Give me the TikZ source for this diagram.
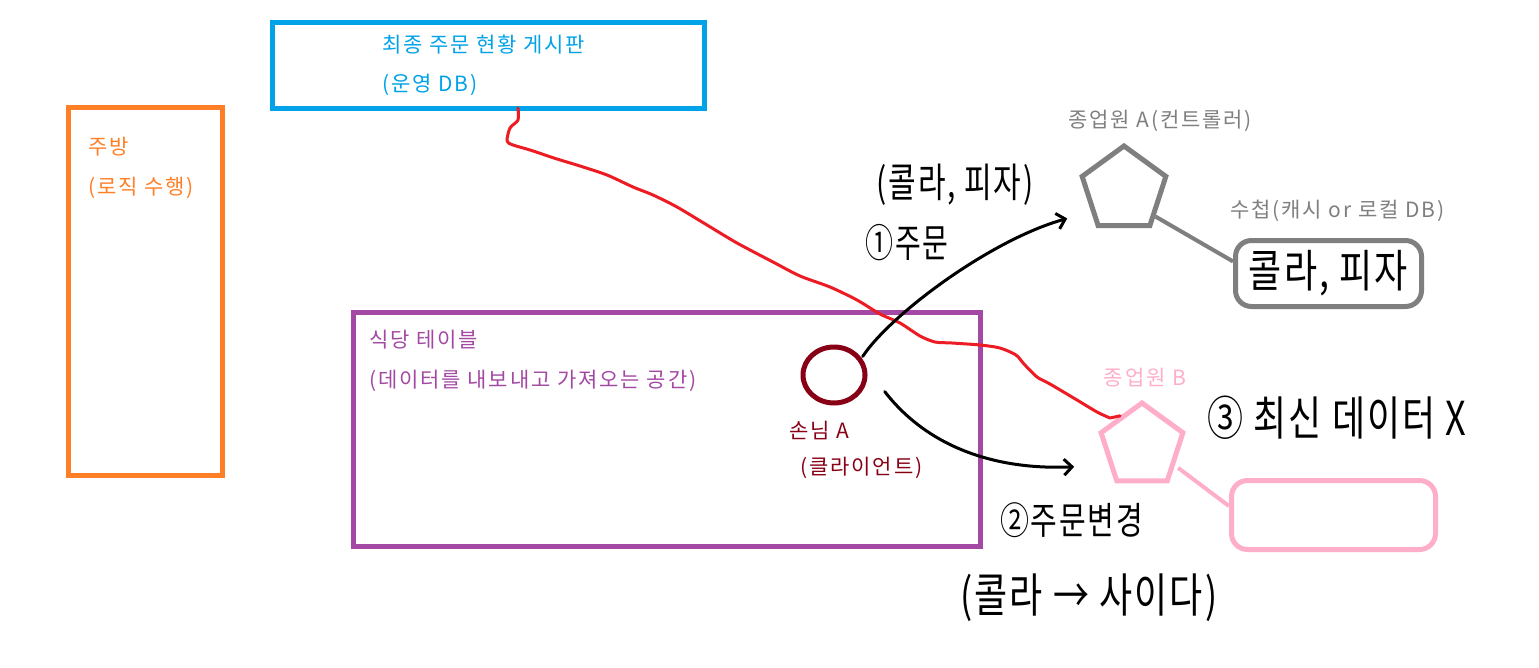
\documentclass[tikz,border=0pt]{standalone}
\usepackage{fontspec}
\setmainfont{Noto Sans CJK KR}
\newfontfamily\lblfont[LetterSpace=9]{Noto Sans CJK KR}
\newfontfamily\handfont[LetterSpace=6]{Noto Sans CJK KR}
\usetikzlibrary{shapes.geometric,arrows.meta,calc}
\definecolor{porange}{HTML}{FF7F27}
\definecolor{pblue}{HTML}{00A2E8}
\definecolor{ppurple}{HTML}{A349A4}
\definecolor{pdred}{HTML}{880015}
\definecolor{pgray}{HTML}{7F7F7F}
\definecolor{ppink}{HTML}{FFAEC9}
\definecolor{pred}{HTML}{ED1C24}
\begin{document}
\begin{tikzpicture}[x=1pt,y=-1pt,
  box/.style={draw, line width=5pt, inner sep=0pt, anchor=north west},
  lbl/.style={anchor=west, inner sep=0pt, font=\lblfont\fontsize{21}{24}\selectfont},
  hand/.style={inner sep=0pt, text=black},
  penta/.style={draw, regular polygon, regular polygon sides=5, line width=5pt, inner sep=0pt, minimum size=88pt},
  pen/.style={line width=3pt, line cap=round, line join=round},
  arr/.style={pen, black, -{Straight Barb[length=8pt,width=16pt,line width=3pt]}}]
\path[fill=white] (0,0) rectangle (1539,667);
\useasboundingbox (0,0) rectangle (1539,667);

% boxes
\node[box, draw=porange, minimum width=154pt, minimum height=368pt] (kitchen) at (66,105) {};
\node[lbl, text=porange] (kt1) at (88,147) {주방};
\node[lbl, text=porange] (kt2) at (88,188) {(로직 수행)};

\node[box, draw=pblue, minimum width=432pt, minimum height=86pt] (board) at (270,20) {};
\node[lbl, text=pblue] (bt1) at (382,45) {최종 주문 현황 게시판};
\node[lbl, text=pblue] (bt2) at (382,85) {(운영 DB)};

\node[box, draw=ppurple, minimum width=627pt, minimum height=234pt] (table) at (351,310) {};
\node[lbl, text=ppurple] (tt1) at (369,340) {식당 테이블};
\node[lbl, text=ppurple] (tt2) at (369,381) {(데이터를 내보내고 가져오는 공간)};

% client
\node[draw=pdred, line width=5pt, ellipse, minimum width=62pt, minimum height=56pt, inner sep=0pt] (client) at (834,375) {};
\node[lbl, text=pdred] (ct1) at (789,430) {손님 A};
\node[lbl, text=pdred] (ct2) at (800,468) {(클라이언트)};

% waiter A
\node[penta, draw=pgray] (wa) at (1124,190) {};
\node[lbl, text=pgray, anchor=center] (wat) at (1160,121) {종업원 A(컨트롤러)};
\node[lbl, text=pgray] (nbt) at (1230,211) {수첩(캐시 or 로컬 DB)};
\node[draw=pgray, line width=5pt, rounded corners=16pt, minimum width=186pt, minimum height=66pt, inner sep=0pt, anchor=north west] (nb) at (1233,238) {};
\coordinate (nbin) at ($(nb.north west)!0.33!(nb.south west)$);
\draw[pgray, line width=4pt] ($(wa.corner 4)!0.22!(wa.corner 5)$) -- (nbin);

% waiter B
\node[penta, draw=ppink, minimum size=86pt] (wb) at (1142,446) {};
\node[lbl, text=ppink, anchor=center] (wbt) at (1145,378) {종업원 B};
\node[draw=ppink, line width=5pt, rounded corners=16pt, minimum width=204pt, minimum height=69pt, inner sep=0pt, anchor=north west] (pb) at (1229,478) {};
\coordinate (pbin) at ($(pb.north west)!0.38!(pb.south west)$);
\draw[ppink, line width=4pt] ($(wb.corner 4)!0.3!(wb.corner 5)+(4,0)$) -- (pbin);

% red sync line
\coordinate (r0) at (board.south -| 518,0);
\draw[pred, pen] (r0) -- plot[smooth, tension=0.45] coordinates {
 (518,108) (518,120) (510,128) (507,141) (513,145) (530,150) (557,159) (580,166)
 (607,175) (633,187) (653,195) (677,207) (707,225) (737,243) (773,262) (800,276)
 (830,287) (857,300) (880,314) (900,323) (920,336) (935,342) (952,343) (980,345)
 (1000,348) (1016,355) (1024,364) (1037,377) (1050,384) (1077,400) (1097,412)
 (1110,418)} -- (wb.side 1);

% black arrows
\coordinate (a1s) at ($(client.north east)+(5,3)$);
\coordinate (a1e) at ($(wa.corner 2)+(-12,43)$);
\draw[arr] (a1s) .. controls (890,315) and (990,240) .. (a1e);
\coordinate (a2s) at ($(client.south east)+(27,-5)$);
\coordinate (a2e) at ($(wb.corner 2)+(-24,35)$);
\draw[arr] (a2s) .. controls (930,450) and (1000,470) .. (a2e);

% handwritten notes
\node[hand, font=\handfont\fontsize{30}{30}\selectfont, yscale=1.35] (h1) at (955,185) {(콜라, 피자)};
\node[hand, font=\handfont\fontsize{28}{28}\selectfont, yscale=1.4] (h2) at (907,243) {①주문};
\node[hand, font=\handfont\fontsize{36}{36}\selectfont, yscale=1.25] (h3) at (nb.center) {콜라, 피자};
\node[hand, font=\handfont\fontsize{36}{36}\selectfont, yscale=1.3, anchor=west] (h4) at (1207,418) {③ 최신 데이터 X};
\node[hand, font=\handfont\fontsize{29}{29}\selectfont, yscale=1.3, anchor=west] (h5) at (1000,520) {②주문변경};
\node[hand, font=\handfont\fontsize{36}{36}\selectfont, yscale=1.3, anchor=west] (h6) at (960,598) {(콜라 → 사이다)};
\end{tikzpicture}
\end{document}
